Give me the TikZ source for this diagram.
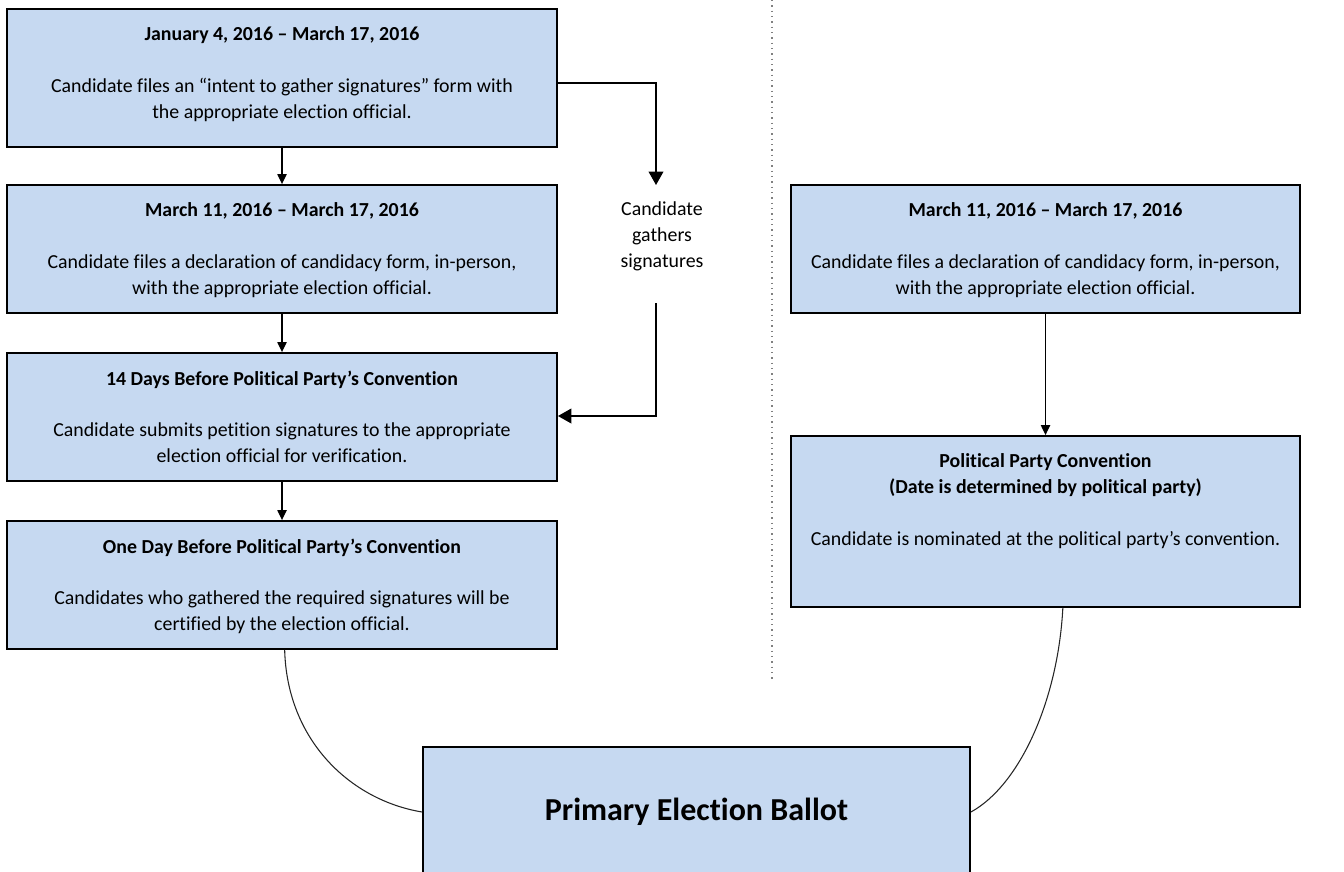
\documentclass[tikz,border=0pt]{standalone}
\usepackage{fontspec}
\setmainfont{Carlito}[Ligatures=NoCommon]
\usetikzlibrary{arrows.meta,positioning}
\definecolor{boxblue}{HTML}{C6D9F1}

\tikzset{
  stepbox/.style={draw=black, line width=1.4pt, fill=boxblue, inner sep=0pt},
  steptext/.style={align=center, inner sep=0pt, font=\fontsize{14.9}{19.4}\selectfont},
  link/.style={line width=0.9pt, -{Triangle[width=7pt,length=7.5pt]}},
  biglink/.style={line width=1.1pt, -{Triangle[width=11pt,length=10pt]}},
  curvelink/.style={line width=0.8pt, draw=black!85},
}

\begin{document}
\begin{tikzpicture}[x=0.75pt,y=0.75pt]
    \clip (0,0) rectangle (1344,-871);

    % left column
    \node[stepbox, minimum width=412.5pt, minimum height=103.5pt] (b1) at (282,-78)  {};
    \node[stepbox, minimum width=412.5pt, minimum height=96pt]    (b2) at (282,-249) {};
    \node[stepbox, minimum width=412.5pt, minimum height=96pt]    (b3) at (282,-417) {};
    \node[stepbox, minimum width=412.5pt, minimum height=96pt]    (b4) at (282,-585) {};

    \node[steptext, below=14pt of b1.north] (t1) {\textbf{January 4, 2016 – March 17, 2016}\\[19.5pt]
        Candidate files an “intent to gather signatures” form with\\ the appropriate election official.};
    \node[steptext, below=14pt of b2.north] (t2) {\textbf{March 11, 2016 – March 17, 2016}\\[19.5pt]
        Candidate files a declaration of candidacy form, in-person,\\ with the appropriate election official.};
    \node[steptext, below=14pt of b3.north] (t3) {\textbf{14 Days Before Political Party’s Convention}\\[19pt]
        Candidate submits petition signatures to the appropriate\\ election official for verification.};
    \node[steptext, below=14pt of b4.north] (t4) {\textbf{One Day Before Political Party’s Convention}\\[19pt]
        Candidates who gathered the required signatures will be\\ certified by the election official.};

    \draw[link] (b1) -- (b2);
    \draw[link] (b2) -- (b3);
    \draw[link] (b3) -- (b4);

    % signatures loop
    \node[steptext] (gath) at (662,-236) {Candidate\\ gathers\\ signatures};
    \coordinate (g1) at (656,-83);
    \coordinate (g2) at (656,-185);
    \coordinate (g3) at (656,-303);
    \coordinate (g4) at (656,-416);
    \draw[biglink] (b1.east |- g1) -- (g1) -- (g2);
    \draw[biglink] (g3) -- (g4) -- (b3.east |- g4);

    % divider
    \draw[gray, line width=1pt, dash pattern=on 1pt off 3pt] (772,0) -- (772,-680);

    % right column
    \node[stepbox, minimum width=381.75pt, minimum height=96pt]     (r1) at (1045.5,-249)   {};
    \node[stepbox, minimum width=381.75pt, minimum height=128.25pt] (r2) at (1045.5,-521.5) {};

    \node[steptext, below=13.5pt of r1.north] (s1) {\textbf{March 11, 2016 – March 17, 2016}\\[19.5pt]
        Candidate files a declaration of candidacy form, in-person,\\ with the appropriate election official.};
    \node[steptext, below=13.5pt of r2.north] (s2) {\textbf{Political Party Convention}\\ \textbf{(Date is determined by political party)}\\[19.5pt]
        Candidate is nominated at the political party’s convention.};

    \draw[link] (r1) -- (r2);

    % ballot
    \node[stepbox, minimum width=410.25pt, minimum height=97.5pt] (pb) at (696.5,-812)
        {\fontsize{24}{28}\selectfont\bfseries Primary Election Ballot};

    \draw[curvelink] ([xshift=2pt]b4.south) .. controls (287,-740) and (350,-800) .. (pb.west);
    \draw[curvelink] ([xshift=13pt]r2.south) .. controls (1058,-700) and (1020,-785) .. (pb.east);
\end{tikzpicture}
\end{document}
